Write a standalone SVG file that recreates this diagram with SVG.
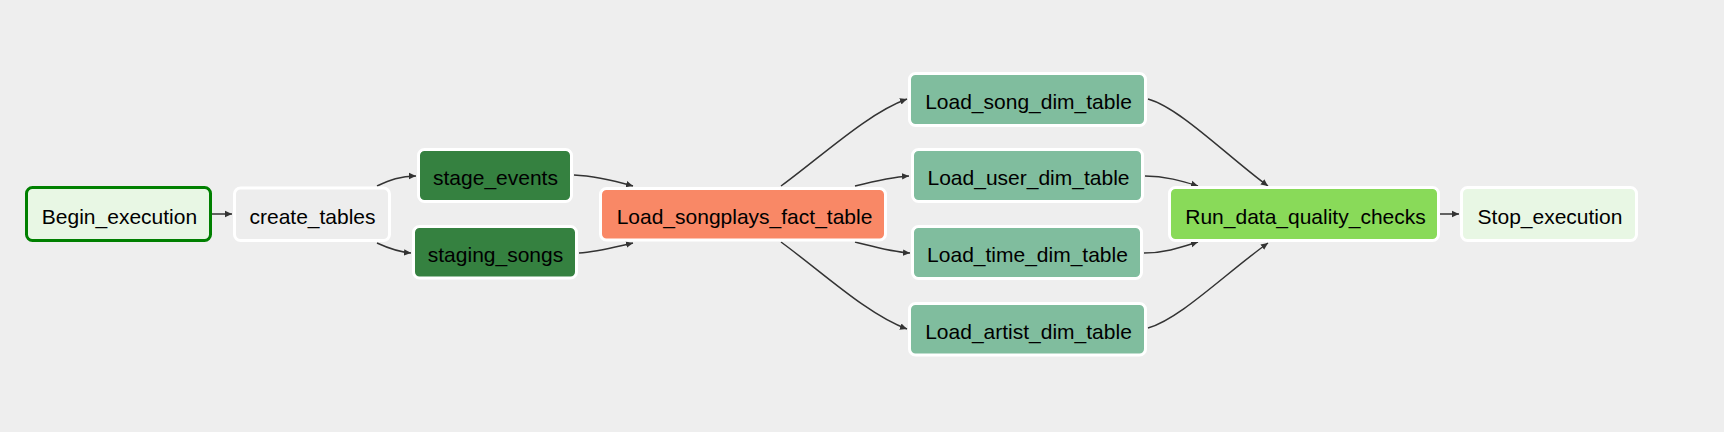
<svg xmlns="http://www.w3.org/2000/svg" width="1724" height="432" viewBox="0 0 1724 432">
<style>
.n rect{stroke:#ffffff;stroke-width:3}
.n text{font-family:"Liberation Sans",Arial,sans-serif;font-size:21px;fill:#000;text-anchor:middle}
.e path{fill:none;stroke:#333;stroke-width:1.5}
</style>
<defs>
<marker id="ah" markerWidth="8" markerHeight="8" refX="7" refY="4" orient="auto" markerUnits="userSpaceOnUse">
<path d="M0,0.8 L7,4 L0,7.2 Z" fill="#333"/>
</marker>
</defs>
<rect x="0" y="0" width="1724" height="432" fill="#eeeeee"/>
<g class="e" id="connectors">
<path d="M212,214 L232,214" marker-end="url(#ah)"/>
<path d="M377,186 C390,180 400,176 416,176" marker-end="url(#ah)"/>
<path d="M377,243 C390,249 400,252 411,253" marker-end="url(#ah)"/>
<path d="M574,175 C595,176 615,181 633,186" marker-end="url(#ah)"/>
<path d="M579,253 C597,252 615,247 633,243" marker-end="url(#ah)"/>
<path d="M781,186 C822,156 868,113 907,99" marker-end="url(#ah)"/>
<path d="M855,186 C875,181 892,177 909,176" marker-end="url(#ah)"/>
<path d="M855,242 C875,247 892,252 910,253" marker-end="url(#ah)"/>
<path d="M781,242 C822,272 868,315 907,329" marker-end="url(#ah)"/>
<path d="M1148,99 C1180,108 1226,155 1268,186" marker-end="url(#ah)"/>
<path d="M1145,176 C1165,176 1182,181 1198,186" marker-end="url(#ah)"/>
<path d="M1144,253 C1165,253 1182,247 1198,242" marker-end="url(#ah)"/>
<path d="M1148,328 C1180,319 1226,273 1268,243" marker-end="url(#ah)"/>
<path d="M1440,214 L1459,214" marker-end="url(#ah)"/>
</g>
<g class="n" id="Begin_execution"><rect x="26.5" y="187.5" width="184" height="53" rx="6" fill="#e8f7e4" style="stroke:#008000"/><text x="119.5" y="223.5">Begin_execution</text></g>
<g class="n" id="create_tables"><rect x="234.5" y="188" width="155" height="52.5" rx="6" fill="#ededed"/><text x="312.5" y="223.5">create_tables</text></g>
<g class="n" id="stage_events"><rect x="418.5" y="149.5" width="153" height="52" rx="6" fill="#358140"/><text x="495.5" y="185">stage_events</text></g>
<g class="n" id="staging_songs"><rect x="413.5" y="226.5" width="163" height="51.5" rx="6" fill="#358140"/><text x="495.5" y="262">staging_songs</text></g>
<g class="n" id="Load_songplays_fact_table"><rect x="600.5" y="188.5" width="285" height="51.5" rx="6" fill="#f98866"/><text x="744.5" y="223.5">Load_songplays_fact_table</text></g>
<g class="n" id="Load_song_dim_table"><rect x="909.5" y="73.5" width="236" height="52" rx="6" fill="#80bd9e"/><text x="1028.5" y="109">Load_song_dim_table</text></g>
<g class="n" id="Load_user_dim_table"><rect x="912.5" y="149.5" width="230" height="52" rx="6" fill="#80bd9e"/><text x="1028.5" y="185">Load_user_dim_table</text></g>
<g class="n" id="Load_time_dim_table"><rect x="912.5" y="226.5" width="229" height="52" rx="6" fill="#80bd9e"/><text x="1027.5" y="262">Load_time_dim_table</text></g>
<g class="n" id="Load_artist_dim_table"><rect x="909.5" y="303.5" width="236" height="51.5" rx="6" fill="#80bd9e"/><text x="1028.5" y="339">Load_artist_dim_table</text></g>
<g class="n" id="Run_data_quality_checks"><rect x="1169.5" y="187.5" width="269" height="53" rx="6" fill="#89da59"/><text x="1305.5" y="223.5">Run_data_quality_checks</text></g>
<g class="n" id="Stop_execution"><rect x="1461.5" y="187.5" width="175" height="53" rx="6" fill="#e8f7e4"/><text x="1550" y="223.5">Stop_execution</text></g>
</svg>
